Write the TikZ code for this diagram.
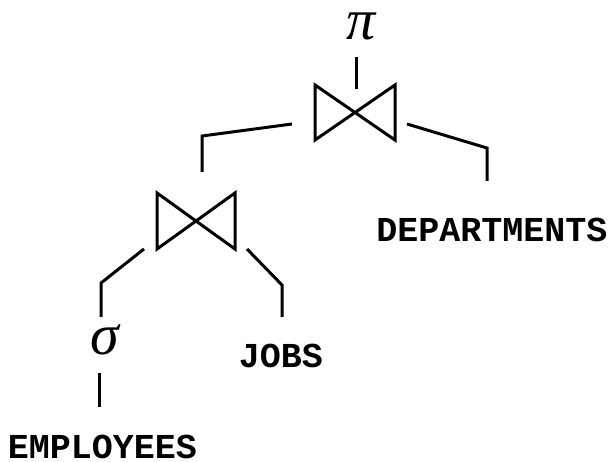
\documentclass[tikz,border=0pt]{standalone}
\usepackage{fontspec}
\newfontfamily\labelfont{Liberation Mono}
\newfontfamily\greekfont{Liberation Serif}
\tikzset{
  edge/.style={line width=3pt, line cap=butt, line join=miter},
  rel/.style={font=\labelfont\bfseries\fontsize{35}{40}\selectfont, inner sep=0pt, anchor=base, text height=20pt, text depth=0pt},
  op/.style={font=\greekfont\itshape\fontsize{58}{64}\selectfont, inner sep=0pt, anchor=base, text height=27pt, text depth=0pt},
  bowtie/.pic={\draw[edge] (-40,-27.5) -- (-40,27.5) -- (40,-27.5) -- (40,27.5) -- cycle;}
}
\begin{document}
\begin{tikzpicture}[x=1pt,y=-1pt]
\useasboundingbox (0,0) rectangle (611,462);
% operators
\node[op] (pi) at (361,40) {π};
\node[op] (sigma) at (105,355) {σ};
% joins
\coordinate (j1) at (355,112.5);
\coordinate (j2) at (196,221);
\pic at (j1) {bowtie};
\path (j2) pic[xscale=0.975,yscale=1.02] {bowtie};
% relations
\node[rel] (dep) at (492,242) {DEPARTMENTS};
\node[rel] (jobs) at (281,368) {JOBS};
\node[rel] (emp) at (102.5,458) {EMPLOYEES};
% connector points
\coordinate (pa) at (356,57);  \coordinate (pb) at (356,89);
\coordinate (a1) at (292,124); \coordinate (a2) at (202,136); \coordinate (a3) at (202,172);
\coordinate (b1) at (407,124); \coordinate (b2) at (487,148); \coordinate (b3) at (487,181);
\coordinate (c1) at (144,249); \coordinate (c2) at (101,283); \coordinate (c3) at (101,317);
\coordinate (d1) at (247,249); \coordinate (d2) at (282,285); \coordinate (d3) at (282,317);
\coordinate (e1) at (99,373);  \coordinate (e2) at (99,407);
\draw[edge] (pa) -- (pb);
\draw[edge] (a1) -- (a2) -- (a3);
\draw[edge] (b1) -- (b2) -- (b3);
\draw[edge] (c1) -- (c2) -- (c3);
\draw[edge] (d1) -- (d2) -- (d3);
\draw[edge] (e1) -- (e2);
\end{tikzpicture}
\end{document}
